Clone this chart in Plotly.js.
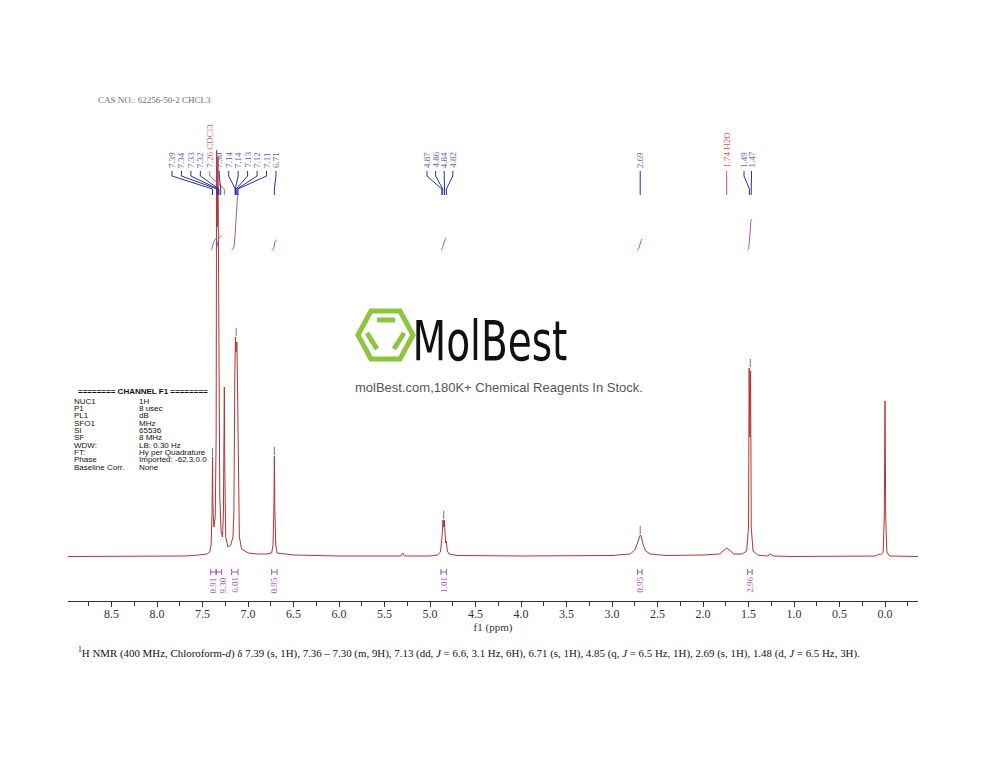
<!DOCTYPE html>
<html><head><meta charset="utf-8">
<script src="https://cdn.plot.ly/plotly-3.0.1.min.js"></script>
<style>html,body{margin:0;padding:0;background:#fff}#chart{width:1000px;height:773px}</style>
</head><body><div id="chart"></div>
<script>
// ---------- spectrum trace (ppm, intensity above baseline) ----------
const specPPM = [8.98,8.0,7.7,7.6,7.5,7.45,7.42,7.405,7.395,7.39,7.385,7.375,7.36,7.35,7.345,7.338,7.33,7.322,7.31,7.295,7.28,7.27,7.26,7.255,7.245,7.22,7.19,7.165,7.155,7.145,7.138,7.13,7.122,7.115,7.105,7.095,7.07,7.0,6.9,6.8,6.74,6.725,6.715,6.71,6.705,6.695,6.68,6.5,6.0,5.5,5.32,5.30,5.28,5.0,4.92,4.885,4.875,4.868,4.862,4.857,4.85,4.843,4.835,4.828,4.82,4.81,4.79,4.7,4.0,3.0,2.80,2.75,2.72,2.70,2.69,2.68,2.66,2.63,2.58,2.4,2.1,2.0,1.82,1.77,1.74,1.71,1.66,1.57,1.52,1.50,1.493,1.485,1.477,1.47,1.45,1.40,1.29,1.26,1.23,1.0,0.5,0.1,0.07,0.05,0.02,0.008,0.0,-0.008,-0.02,-0.05,-0.36];
const specInt = [0.5,0.5,1,1.5,2,3,5,12,45,100,50,30,40,120,407,330,400,200,60,25,20,45,170,90,20,10,12,20,44,180,220,205,215,170,44,20,8,4,3,3,4,12,50,101,50,12,4,2,1,1,1,4,1,1,2,5,12,20,28,37,30,37,25,14,16,6,3,1.5,1,1.5,3,7,14,21,22,21,13,6,3,1.5,1.5,2,3,7,9,7,3,3,6,30,189,120,186,30,6,2,1,3,1,0.5,0.5,1,3,2,5,40,156,40,5,1,0.5];

// ---------- peak labels ----------
const peakLabelPPM = [7.39,7.34,7.33,7.32,7.26,7.30,7.14,7.14,7.13,7.12,7.11,6.71,4.87,4.86,4.84,4.82,2.69,1.74,1.49,1.47];
const peakLabelNote = ['','','','','CDCl3','','','','','','','','','','','','','H2O','',''];

// ---------- integrals ----------
const intFrom = [7.41,7.35,7.18,6.74,4.88,2.72,1.51];
const intTo   = [7.35,7.29,7.11,6.68,4.82,2.67,1.46];
const intValues = ['0.91','9.30','6.01','0.95','1.01','0.95','2.96'];

// ---------- acquisition block ----------
const chLabels = ['NUC1','P1','PL1','SFO1','SI','SF','WDW:','FT:','Phase','Baseline Corr.'];
const chValues = ['1H','8 usec','dB','MHz','65536','8 MHz','LB: 0.30 Hz','Hy per Quadrature','Imported: -62.3,0.0','None'];

const xTickVals = [8.5,8.0,7.5,7.0,6.5,6.0,5.5,5.0,4.5,4.0,3.5,3.0,2.5,2.0,1.5,1.0,0.5,0.0];

// ---------- layout geometry (pixels) ----------
const W=1000,H=773, X0=68, X1=918, Y0=130, Y1=601;
const XL=8.978, XR=-0.3626, YMIN=-44, YMAX=427;
const px = p => X0 + (XL-p)/(XL-XR)*(X1-X0);
const pxX = p => (p-X0)/(X1-X0);
const pxY = p => (Y1-p)/(Y1-Y0);
const pyV = p => YMIN + (Y1-p)/(Y1-Y0)*(YMAX-YMIN);

const labelLayout = [
  {first:0,last:11,start:172,step:9.45},
  {first:12,last:15,start:427,step:8.6},
  {first:16,last:16,start:null},
  {first:17,last:17,start:null},
  {first:18,last:19,start:744,step:7.5}
];

const BLUE_TXT='#5b5fae', BLUE_LN='#2b2f9e', RED='#e05555', PURPLE='#a355b0';
const shapes=[], annotations=[], traces=[];

traces.push({x:specPPM,y:specInt,mode:'lines',line:{color:'#b03535',width:1},hoverinfo:'skip',showlegend:false});

// peak labels and connector lines
labelLayout.forEach(g=>{
  for(let i=g.first;i<=g.last;i++){
    const ppm=peakLabelPPM[i];
    const xl = g.start===null ? px(ppm) : g.start + (i-g.first)*g.step;
    const solvent = peakLabelNote[i]!=='';
    const txt = ppm.toFixed(2) + (solvent? ' '+peakLabelNote[i] : '');
    annotations.push({xref:'paper',yref:'paper',x:pxX(xl),y:pxY(169),xanchor:'center',yanchor:'bottom',
      text:txt,textangle:-90,showarrow:false,font:{family:'Liberation Serif',size:9,color:solvent?RED:BLUE_TXT},borderpad:0});
    const xp=px(ppm);
    shapes.push({type:'path',xref:'paper',yref:'paper',
      path:`M ${pxX(xl)} ${pxY(171)} L ${pxX(xl)} ${pxY(176)} L ${pxX(xp)} ${pxY(189)} L ${pxX(xp)} ${pxY(195)}`,
      line:{color:solvent?RED:BLUE_LN,width:1}});
  }
});

// peak-top markers (from spectrum data)
const topX=[],topY=[];
[7.39,6.71,7.13,4.85,2.69,1.48].forEach(p=>{
  let m=0; specPPM.forEach((q,k)=>{ if(Math.abs(q-p)<=0.025 && specInt[k]>m) m=specInt[k]; });
  topX.push(p); topY.push(m+5);
});
traces.push({x:topX,y:topY,mode:'markers',marker:{symbol:'line-ns-open',size:6,color:'#6070c8',line:{width:1,color:'#6070c8'}},hoverinfo:'skip',showlegend:false});

// integral curves (cumulative integral of the spectrum inside each region)
const intRise=[12,14,57,10,12,11,31];
const intBase = pyV(250);
let prevLabelPx=-1e9;
intFrom.forEach((a,j)=>{
  const b=intTo[j];
  const xs=[],ys=[]; let cum=0; const cs=[];
  const idx=[]; specPPM.forEach((q,k)=>{ if(q<a && q>b) idx.push(k); });
  xs.push(a); cs.push(0);
  let prevX=a, prevY=0;
  idx.forEach(k=>{ cum += (prevX-specPPM[k])*(prevY+specInt[k])/2; prevX=specPPM[k]; prevY=specInt[k]; xs.push(specPPM[k]); cs.push(cum); });
  cum += (prevX-b)*prevY/2; xs.push(b); cs.push(cum);
  cs.forEach(c=>ys.push(intBase + intRise[j]*c/cum));
  traces.push({x:xs,y:ys,mode:'lines',line:{color:PURPLE,width:1,shape:'spline'},hoverinfo:'skip',showlegend:false});
  // bracket below baseline
  const by=pyV(572), cap=pyV(569), cap2=pyV(575);
  shapes.push({type:'line',xref:'x',yref:'y',x0:a,x1:b,y0:by,y1:by,line:{color:PURPLE,width:1}});
  shapes.push({type:'line',xref:'x',yref:'y',x0:a,x1:a,y0:cap,y1:cap2,line:{color:PURPLE,width:1}});
  shapes.push({type:'line',xref:'x',yref:'y',x0:b,x1:b,y0:cap,y1:cap2,line:{color:PURPLE,width:1}});
  const lp = Math.max((px(a)+px(b))/2, prevLabelPx+10); prevLabelPx=lp;
  annotations.push({xref:'paper',yref:'paper',x:pxX(lp),y:pxY(576),xanchor:'center',yanchor:'top',text:intValues[j],textangle:-90,
    showarrow:false,font:{family:'Liberation Serif',size:9,color:PURPLE},borderpad:0});
});

// CAS line
annotations.push({xref:'paper',yref:'paper',x:pxX(97),y:pxY(100),xanchor:'left',yanchor:'middle',showarrow:false,
  text:'CAS NO.: 62256-50-2 CHCL3',font:{family:'Liberation Serif',size:9,color:'#6a6a7a'},borderpad:0});

// acquisition parameter block
annotations.push({xref:'paper',yref:'paper',x:pxX(77),y:pxY(391),xanchor:'left',yanchor:'middle',showarrow:false,
  text:'<b>======== CHANNEL F1 ========</b>',font:{family:'Liberation Sans',size:8,color:'#111'},borderpad:0});
chLabels.forEach((l,i)=>{
  const y=pxY(401+i*7.35);
  annotations.push({xref:'paper',yref:'paper',x:pxX(73),y:y,xanchor:'left',yanchor:'middle',showarrow:false,text:l,
    font:{family:'Liberation Sans',size:8,color:'#111'},borderpad:0});
  annotations.push({xref:'paper',yref:'paper',x:pxX(138),y:y,xanchor:'left',yanchor:'middle',showarrow:false,text:chValues[i],
    font:{family:'Liberation Sans',size:8,color:'#111'},borderpad:0});
});

// logo
const G='#8cc63f';
const hex=[[358,335],[371,311],[400,311],[413,335],[400,359],[371,359]];
shapes.push({type:'path',xref:'paper',yref:'paper',path:'M '+hex.map(p=>pxX(p[0])+' '+pxY(p[1])).join(' L ')+' Z',line:{color:G,width:5}});
[[[377,320],[395,320]],[[367,333],[377,349]],[[404,333],[394,349]]].forEach(s=>{
  shapes.push({type:'line',xref:'paper',yref:'paper',x0:pxX(s[0][0]),y0:pxY(s[0][1]),x1:pxX(s[1][0]),y1:pxY(s[1][1]),line:{color:G,width:5}});
});
annotations.push({xref:'paper',yref:'paper',x:pxX(490),y:pxY(340),xanchor:'center',yanchor:'middle',showarrow:false,
  text:'MolBest',font:{family:'DejaVu Sans Condensed, DejaVu Sans',size:56,color:'#111'},borderpad:0});
annotations.push({xref:'paper',yref:'paper',x:pxX(499),y:pxY(387),xanchor:'center',yanchor:'middle',showarrow:false,
  text:'molBest.com,180K+ Chemical Reagents In Stock.',font:{family:'Liberation Sans',size:13,color:'#555'},borderpad:0});

// caption
annotations.push({xref:'paper',yref:'paper',x:pxX(77),y:pxY(652),xanchor:'left',yanchor:'middle',showarrow:false,
  text:'<sup>1</sup>H NMR (400 MHz, Chloroform-<i>d</i>) δ 7.39 (s, 1H), 7.36 – 7.30 (m, 9H), 7.13 (dd, <i>J</i> = 6.6, 3.1 Hz, 6H), 6.71 (s, 1H), 4.85 (q, <i>J</i> = 6.5 Hz, 1H), 2.69 (s, 1H), 1.48 (d, <i>J</i> = 6.5 Hz, 3H).',
  font:{family:'Liberation Serif',size:10.9,color:'#111'},borderpad:0});

const layout={
  width:W,height:H,margin:{l:X0,r:W-X1,t:Y0,b:H-Y1,pad:0},
  paper_bgcolor:'#fff',plot_bgcolor:'#fff',showlegend:false,
  xaxis:{range:[XL,XR],showgrid:false,zeroline:false,showline:true,linecolor:'#333',linewidth:1,
    tickmode:'array',tickvals:xTickVals,ticktext:xTickVals.map(v=>v.toFixed(1)),ticks:'outside',ticklen:5,tickcolor:'#333',
    ticklabelstandoff:-3,
    minor:{dtick:0.25,ticks:'outside',ticklen:4,tickcolor:'#333'},
    tickfont:{family:'Liberation Serif',size:12,color:'#333'},
    title:{text:'f1 (ppm)',font:{family:'Liberation Serif',size:11,color:'#333'},standoff:0},fixedrange:true},
  yaxis:{range:[YMIN,YMAX],visible:false,fixedrange:true},
  shapes:shapes,annotations:annotations
};
Plotly.newPlot('chart',traces,layout,{staticPlot:true,displayModeBar:false}).then(()=>{
  // squeeze the logo word to the narrow width of the original wordmark
  document.querySelectorAll('.annotation-text').forEach(t=>{
    if(t.textContent==='MolBest'){ t.setAttribute('textLength','155'); t.setAttribute('lengthAdjust','spacingAndGlyphs'); }
  });
});
</script></body></html>
